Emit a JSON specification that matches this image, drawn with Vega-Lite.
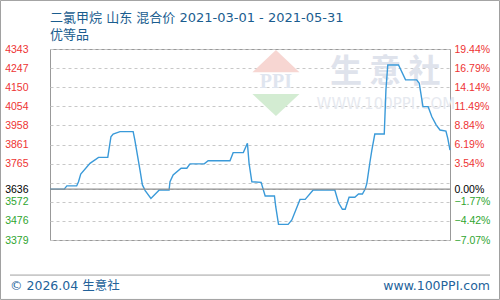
{
  "$schema": "https://vega.github.io/schema/vega-lite/v6.json",
  "width": 400,
  "height": 191,
  "autosize": {"type": "none"},
  "padding": {"left": 50, "top": 49, "right": 50, "bottom": 60},
  "background": "#ffffff",
  "config": {"view": {"stroke": "#999999", "strokeWidth": 1}},
  "title": {
    "text": "二氯甲烷 山东 混合价 2021-03-01 - 2021-05-31",
    "subtitle": "优等品",
    "anchor": "start",
    "frame": "group",
    "font": "DejaVu Sans, Noto Sans CJK SC",
    "fontSize": 13,
    "fontWeight": "normal",
    "color": "#1a5d8f",
    "subtitleFont": "DejaVu Sans, Noto Sans CJK SC",
    "subtitleFontSize": 13,
    "subtitleColor": "#1a5d8f",
    "offset": -42,
    "subtitlePadding": 4
  },
  "datasets": {
    "prices": [
      {"date": "2021-03-01T00:00:00Z", "price": 3636},
      {"date": "2021-03-04T05:00:00Z", "price": 3636},
      {"date": "2021-03-04T19:00:00Z", "price": 3652},
      {"date": "2021-03-07T00:00:00Z", "price": 3652},
      {"date": "2021-03-07T10:00:00Z", "price": 3673},
      {"date": "2021-03-07T22:00:00Z", "price": 3712},
      {"date": "2021-03-10T00:00:00Z", "price": 3766},
      {"date": "2021-03-11T22:00:00Z", "price": 3796},
      {"date": "2021-03-14T00:00:00Z", "price": 3796},
      {"date": "2021-03-14T17:00:00Z", "price": 3900},
      {"date": "2021-03-15T05:00:00Z", "price": 3914},
      {"date": "2021-03-16T18:00:00Z", "price": 3926},
      {"date": "2021-03-19T17:00:00Z", "price": 3926},
      {"date": "2021-03-20T02:00:00Z", "price": 3884},
      {"date": "2021-03-21T06:00:00Z", "price": 3732},
      {"date": "2021-03-21T19:00:00Z", "price": 3657},
      {"date": "2021-03-22T10:00:00Z", "price": 3628},
      {"date": "2021-03-23T17:00:00Z", "price": 3589},
      {"date": "2021-03-25T14:00:00Z", "price": 3631},
      {"date": "2021-03-27T19:00:00Z", "price": 3631},
      {"date": "2021-03-28T00:00:00Z", "price": 3673},
      {"date": "2021-03-28T17:00:00Z", "price": 3707},
      {"date": "2021-03-30T12:00:00Z", "price": 3741},
      {"date": "2021-03-31T19:00:00Z", "price": 3741},
      {"date": "2021-04-01T12:00:00Z", "price": 3763},
      {"date": "2021-04-04T17:00:00Z", "price": 3763},
      {"date": "2021-04-05T14:00:00Z", "price": 3779},
      {"date": "2021-04-10T12:00:00Z", "price": 3779},
      {"date": "2021-04-11T05:00:00Z", "price": 3820},
      {"date": "2021-04-13T12:00:00Z", "price": 3820},
      {"date": "2021-04-14T10:00:00Z", "price": 3867},
      {"date": "2021-04-14T19:00:00Z", "price": 3766},
      {"date": "2021-04-15T10:00:00Z", "price": 3673},
      {"date": "2021-04-17T12:00:00Z", "price": 3670},
      {"date": "2021-04-18T10:00:00Z", "price": 3601},
      {"date": "2021-04-20T12:00:00Z", "price": 3601},
      {"date": "2021-04-20T19:00:00Z", "price": 3547},
      {"date": "2021-04-21T10:00:00Z", "price": 3458},
      {"date": "2021-04-23T14:00:00Z", "price": 3458},
      {"date": "2021-04-24T10:00:00Z", "price": 3480},
      {"date": "2021-04-26T06:00:00Z", "price": 3584},
      {"date": "2021-04-27T10:00:00Z", "price": 3584},
      {"date": "2021-04-29T05:00:00Z", "price": 3631},
      {"date": "2021-05-04T02:00:00Z", "price": 3631},
      {"date": "2021-05-04T22:00:00Z", "price": 3567},
      {"date": "2021-05-05T19:00:00Z", "price": 3534},
      {"date": "2021-05-06T10:00:00Z", "price": 3534},
      {"date": "2021-05-07T07:00:00Z", "price": 3595},
      {"date": "2021-05-08T14:00:00Z", "price": 3595},
      {"date": "2021-05-09T10:00:00Z", "price": 3611},
      {"date": "2021-05-10T07:00:00Z", "price": 3611},
      {"date": "2021-05-10T22:00:00Z", "price": 3636},
      {"date": "2021-05-11T07:00:00Z", "price": 3665},
      {"date": "2021-05-12T00:00:00Z", "price": 3774},
      {"date": "2021-05-12T10:00:00Z", "price": 3833},
      {"date": "2021-05-13T02:00:00Z", "price": 3914},
      {"date": "2021-05-15T05:00:00Z", "price": 3914},
      {"date": "2021-05-15T14:00:00Z", "price": 4136},
      {"date": "2021-05-16T00:00:00Z", "price": 4262},
      {"date": "2021-05-18T10:00:00Z", "price": 4262},
      {"date": "2021-05-20T00:00:00Z", "price": 4187},
      {"date": "2021-05-22T12:00:00Z", "price": 4187},
      {"date": "2021-05-23T02:00:00Z", "price": 4170},
      {"date": "2021-05-23T22:00:00Z", "price": 4052},
      {"date": "2021-05-25T02:00:00Z", "price": 4052},
      {"date": "2021-05-25T22:00:00Z", "price": 4001},
      {"date": "2021-05-26T22:00:00Z", "price": 3959},
      {"date": "2021-05-27T18:00:00Z", "price": 3934},
      {"date": "2021-05-29T02:00:00Z", "price": 3929},
      {"date": "2021-05-29T12:00:00Z", "price": 3892},
      {"date": "2021-05-30T00:00:00Z", "price": 3833}
    ],
    "base": [{"price": 3636}]
  },
  "resolve": {"axis": {"y": "independent"}},
  "layer": [
    {
      "data": {"values": [{}]},
      "mark": {"type": "text", "font": "Noto Sans CJK SC", "fontSize": 32, "fontWeight": "bold", "color": "#dfe3ec", "align": "center", "baseline": "middle"},
      "encoding": {
        "x": {"datum": {"year": 2021, "month": 5, "date": 15, "hours": 10, "utc": true}, "type": "temporal", "scale": {"type": "utc", "domain": [{"year": 2021, "month": 3, "date": 1, "utc": true}, {"year": 2021, "month": 5, "date": 30, "utc": true}]}, "axis": null},
        "y": {"datum": 4227, "type": "quantitative", "scale": {"domain": [3379, 4343], "nice": false, "zero": false}, "axis": null},
        "text": {"value": "生 意 社"}
      }
    },
    {
      "data": {"values": [{}]},
      "mark": {"type": "text", "font": "DejaVu Sans", "fontSize": 15, "color": "#e6e9ef", "align": "center", "baseline": "middle"},
      "encoding": {
        "x": {"datum": {"year": 2021, "month": 5, "date": 15, "hours": 14, "utc": true}, "type": "temporal", "axis": null},
        "y": {"datum": 4065, "type": "quantitative", "axis": null},
        "text": {"value": "WWW.100PPI.COM"}
      }
    },
    {
      "data": {"values": [{}]},
      "mark": {"type": "point", "filled": true, "shape": "M0,-0.47L1,0.47L-1,0.47Z", "size": 2209, "color": "#f7d6d2", "opacity": 1},
      "encoding": {
        "x": {"datum": {"year": 2021, "month": 4, "date": 20, "hours": 20, "utc": true}, "type": "temporal", "axis": null},
        "y": {"datum": 4282, "type": "quantitative", "axis": null}
      }
    },
    {
      "data": {"values": [{}]},
      "mark": {"type": "point", "filled": true, "shape": "M-1,-0.47L1,-0.47L0,0.47Z", "size": 2209, "color": "#d3ecd2", "opacity": 1},
      "encoding": {
        "x": {"datum": {"year": 2021, "month": 4, "date": 20, "hours": 20, "utc": true}, "type": "temporal", "axis": null},
        "y": {"datum": 4060, "type": "quantitative", "axis": null}
      }
    },
    {
      "data": {"values": [{}]},
      "mark": {"type": "text", "font": "Liberation Serif", "fontSize": 20, "fontWeight": "bold", "color": "#dfe5ef", "align": "center", "baseline": "middle"},
      "encoding": {
        "x": {"datum": {"year": 2021, "month": 4, "date": 20, "hours": 20, "utc": true}, "type": "temporal", "axis": null},
        "y": {"datum": 4176, "type": "quantitative", "axis": null},
        "text": {"value": "PPI"}
      }
    },
    {
      "data": {"name": "prices"},
      "mark": {"type": "line", "color": "#3a9ad9", "strokeWidth": 1.4, "interpolate": "linear"},
      "encoding": {
        "x": {
          "field": "date", "type": "temporal",
          "axis": {
            "values": [
              {"year": 2021, "month": 3, "date": 1, "utc": true},
              {"year": 2021, "month": 3, "date": 10, "utc": true},
              {"year": 2021, "month": 3, "date": 19, "utc": true},
              {"year": 2021, "month": 3, "date": 28, "utc": true},
              {"year": 2021, "month": 4, "date": 6, "utc": true},
              {"year": 2021, "month": 4, "date": 15, "utc": true},
              {"year": 2021, "month": 4, "date": 24, "utc": true},
              {"year": 2021, "month": 5, "date": 3, "utc": true},
              {"year": 2021, "month": 5, "date": 12, "utc": true},
              {"year": 2021, "month": 5, "date": 21, "utc": true}
            ],
            "format": "%m/%d",
            "labelColor": "#1a5d8f",
            "labelFont": "DejaVu Sans",
            "labelFontSize": 10,
            "labelPadding": 11,
            "labelFlush": false,
            "labelOverlap": false,
            "grid": true,
            "gridDash": [3, 3],
            "gridColor": "#c8c8c8",
            "ticks": false,
            "domain": false,
            "title": null
          }
        },
        "y": {
          "field": "price", "type": "quantitative",
          "axis": {
            "orient": "left",
            "values": [4343, 4247, 4150, 4054, 3958, 3861, 3765, 3668, 3636, 3572, 3476, 3379],
            "labelExpr": "datum.value == 3668 ? '' : format(datum.value, 'd')",
            "labelColor": {"condition": [{"test": "datum.value > 3636.5", "value": "#ee3333"}, {"test": "datum.value < 3635.5", "value": "#2fa52f"}], "value": "#000000"},
            "labelFont": "Liberation Sans",
            "labelFontSize": 10.5,
            "labelPadding": 22,
            "labelOverlap": false,
            "labelFlush": false,
            "grid": true,
            "gridDash": [3, 3],
            "gridColor": "#c8c8c8",
            "ticks": false,
            "domain": false,
            "title": null
          }
        }
      }
    },
    {
      "data": {"name": "base"},
      "mark": {"type": "rule", "color": "#8f8f8f", "strokeWidth": 1.2},
      "encoding": {
        "y": {
          "field": "price", "type": "quantitative",
          "axis": {
            "orient": "right",
            "values": [4343, 4246.6, 4150.2, 4053.8, 3957.4, 3861, 3764.6, 3636, 3571.8, 3475.4, 3379],
            "labelExpr": "format((datum.value - 3636) / 3636 * 100, '.2f') + '%'",
            "labelColor": {"condition": [{"test": "datum.value > 3636.5", "value": "#ee3333"}, {"test": "datum.value < 3635.5", "value": "#2fa52f"}], "value": "#000000"},
            "labelFont": "Liberation Sans",
            "labelFontSize": 10.5,
            "labelPadding": 4,
            "labelOverlap": false,
            "labelFlush": false,
            "grid": false,
            "ticks": false,
            "domain": false,
            "title": null
          }
        }
      }
    },
    {
      "data": {"values": [{}]},
      "mark": {"type": "rule", "color": "#a0a0a0", "strokeWidth": 1},
      "encoding": {
        "x": {"datum": {"year": 2021, "month": 2, "date": 20, "utc": true}, "type": "temporal", "axis": null},
        "x2": {"datum": {"year": 2021, "month": 6, "date": 8, "utc": true}},
        "y": {"datum": 3202, "type": "quantitative", "axis": null}
      }
    },
    {
      "data": {"values": [{}]},
      "mark": {"type": "text", "font": "DejaVu Sans, Noto Sans CJK SC", "fontSize": 12.5, "color": "#23629a", "align": "left", "baseline": "middle"},
      "encoding": {
        "x": {"datum": {"year": 2021, "month": 2, "date": 20, "utc": true}, "type": "temporal", "axis": null},
        "y": {"datum": 3147, "type": "quantitative", "axis": null},
        "text": {"value": "© 2026.04 生意社"}
      }
    },
    {
      "data": {"values": [{}]},
      "mark": {"type": "text", "font": "DejaVu Sans", "fontSize": 12.5, "color": "#23629a", "align": "right", "baseline": "middle"},
      "encoding": {
        "x": {"datum": {"year": 2021, "month": 6, "date": 8, "utc": true}, "type": "temporal", "axis": null},
        "y": {"datum": 3147, "type": "quantitative", "axis": null},
        "text": {"value": "www.100PPI.com"}
      }
    },
    {
      "data": {"values": [{}]},
      "mark": {"type": "rect", "fill": null, "fillOpacity": 0, "stroke": "#a0a0a0", "strokeWidth": 1},
      "encoding": {
        "x": {"datum": {"year": 2021, "month": 2, "date": 17, "hours": 20, "minutes": 38, "utc": true}, "type": "temporal", "axis": null},
        "x2": {"datum": {"year": 2021, "month": 6, "date": 10, "hours": 3, "minutes": 20, "utc": true}},
        "y": {"datum": 4588, "type": "quantitative", "axis": null},
        "y2": {"datum": 3079}
      }
    }
  ]
}
